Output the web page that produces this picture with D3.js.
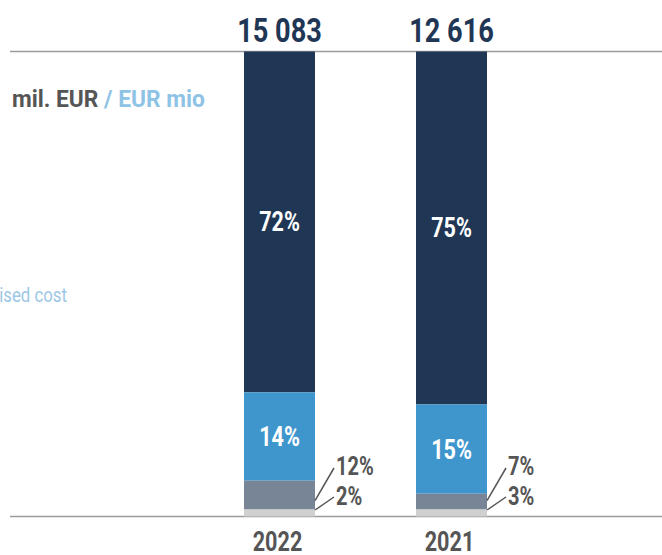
<!DOCTYPE html>
<meta charset="utf-8">
<style>
    body { margin: 0; background: #fff; }
    text { font-family: Roboto, "DejaVu Sans Condensed", sans-serif; }
</style>
<body>
<svg width="662" height="555"></svg>
<script src="https://d3js.org/d3.v7.min.js"></script>
<script>

    // values
    var years = ["2022", "2021"];
    var totals = ["15 083", "12 616"];
    var shares2022 = [73.3, 19.0, 6.2, 1.5];   // share of bar height, top to bottom
    var shares2021 = [75.9, 19.2, 3.4, 1.5];
    var labels2022 = ["72%", "14%", "12%", "2%"];
    var labels2021 = ["75%", "15%", "7%", "3%"];
    var colors = ["#1f3655", "#3f96cc", "#778597", "#d0d0d0"];

    var svg = d3.select("svg");
    var SX = 0.8; // squeeze text sideways, the original face is a condensed one

    var x = d3.scalePoint().domain(years).range([279.5, 451.5]);
    var y = d3.scaleLinear().domain([0, 100]).range([516.5, 51.5]);
    var barW = 71;

    // condensed text: a group moved to (px, py) and squeezed on x
    function ctext(parent, px, py, anchor, size, weight, fill, str, sx) {
        return parent.append("g")
            .attr("transform", "translate(" + px + "," + py + ") scale(" + (sx || SX) + ",1)")
            .append("text")
            .attr("text-anchor", anchor)
            .attr("font-size", size).attr("font-weight", weight).attr("fill", fill)
            .text(str);
    }

    // frame lines
    svg.append("line").attr("x1", 10).attr("x2", 662).attr("y1", y(100)).attr("y2", y(100))
        .attr("stroke", "#9a9a9a").attr("stroke-width", 1.5);
    svg.append("line").attr("x1", 10).attr("x2", 662).attr("y1", y(0)).attr("y2", y(0))
        .attr("stroke", "#9a9a9a").attr("stroke-width", 1.5);

    // unit + cut-off legend text
    var unit = ctext(svg, 12, 107, "start", 24.5, "bold", "#555", null, 0.93);
    unit.append("tspan").text("mil. EUR");
    unit.append("tspan").attr("fill", "#8ec3e6").text(" / EUR mio");

    ctext(svg, 67, 302, "end", 21, "normal", "#9cc7e6", "Amortised cost", 0.8);

    var bars = [
        {year: years[0], total: totals[0], shares: shares2022, labels: labels2022},
        {year: years[1], total: totals[1], shares: shares2021, labels: labels2021}
    ];

    bars.forEach(function (b) {
        var cx = x(b.year);
        var left = cx - barW / 2, right = cx + barW / 2;
        var top = 100;
        var segs = b.shares.map(function (v, i) {
            var s = {i: i, hi: top, lo: top - v, label: b.labels[i]};
            top -= v;
            return s;
        });

        var g = svg.append("g");
        g.selectAll("rect").data(segs).enter().append("rect")
            .attr("x", left).attr("width", barW)
            .attr("y", function (d) { return y(d.hi); })
            .attr("height", function (d) { return y(d.lo) - y(d.hi); })
            .attr("fill", function (d) { return colors[d.i]; });

        // labels inside the two big segments
        segs.slice(0, 2).forEach(function (d) {
            ctext(g, cx, (y(d.hi) + y(d.lo)) / 2 + 9.5, "middle", 27, "bold", "#fff", d.label);
        });

        // leader lines for the two small segments
        var ends = [468, 497], bases = [475, 505], offs = [9, 6.5];
        segs.slice(2).forEach(function (d, k) {
            g.append("line")
                .attr("x1", right).attr("y1", y(d.lo) - offs[k])
                .attr("x2", right + 19).attr("y2", ends[k])
                .attr("stroke", "#555").attr("stroke-width", 1.5);
            ctext(g, right + 21, bases[k], "start", 25, "bold", "#555", d.label);
        });

        // total above
        ctext(svg, cx, 42, "middle", 34, "bold", "#1f3655", b.total);

        // year below
        ctext(svg, cx - 2, 551, "middle", 27, "bold", "#555", b.year);
    });

</script>
</body>
